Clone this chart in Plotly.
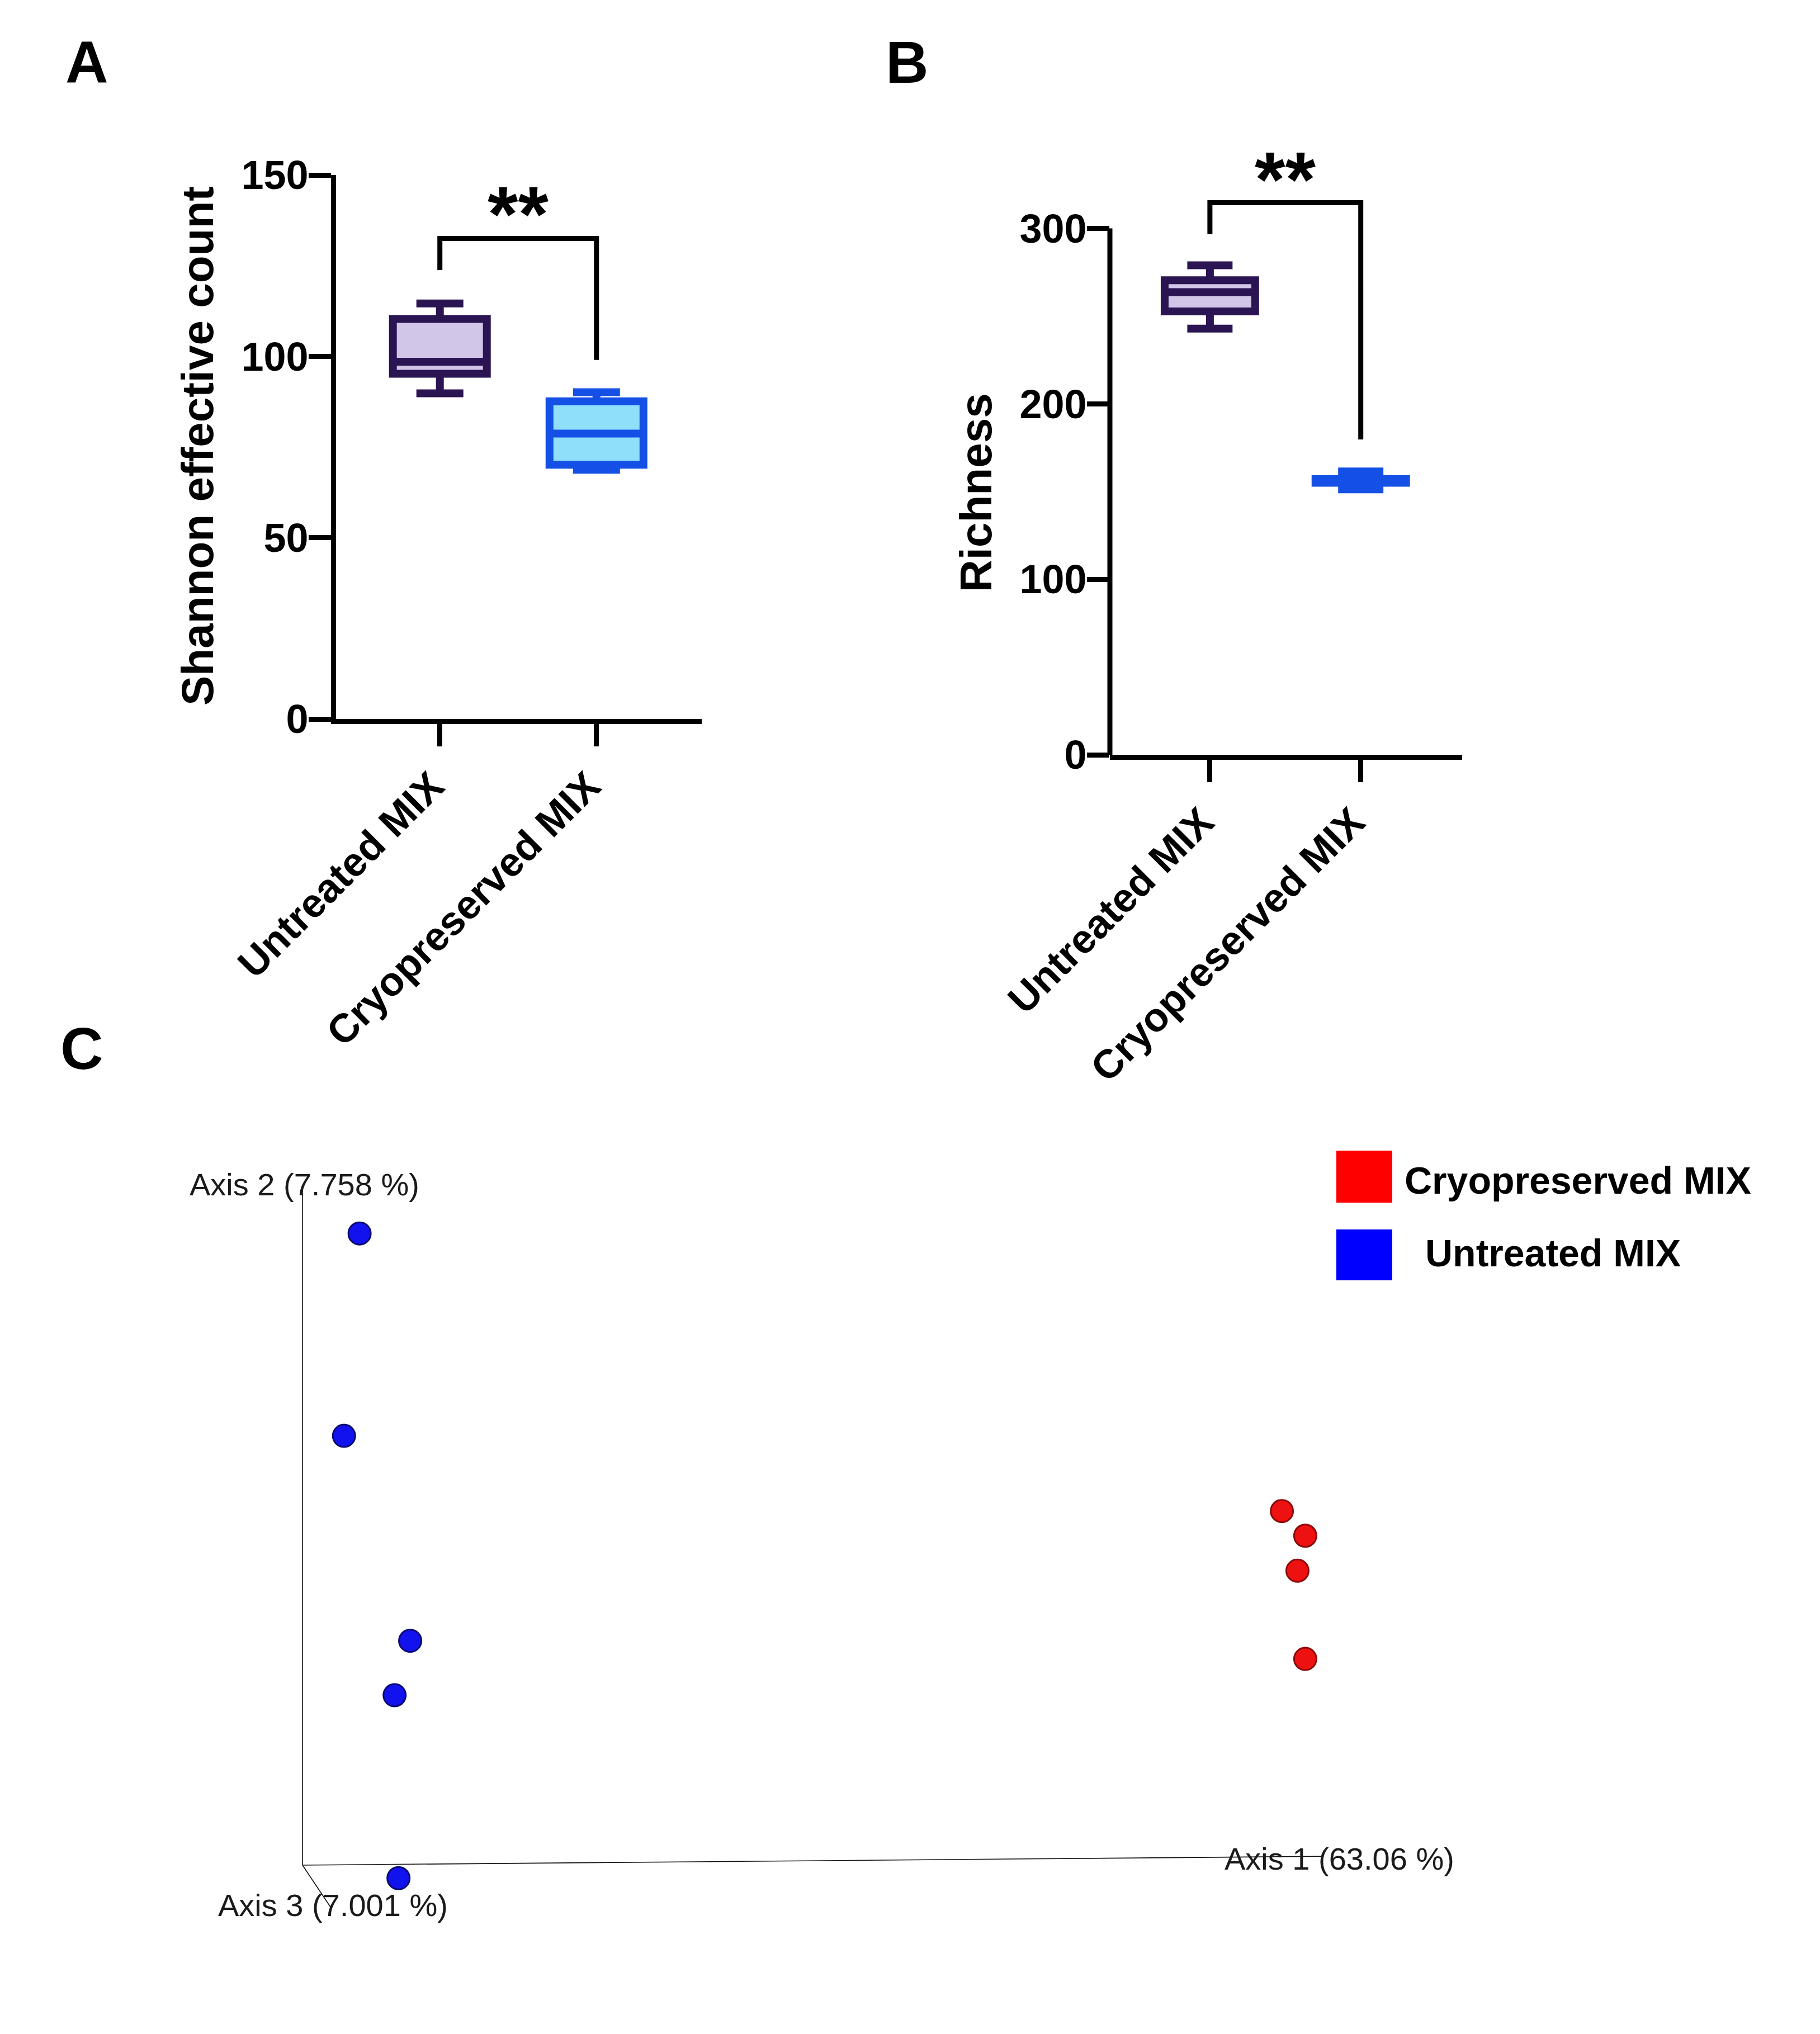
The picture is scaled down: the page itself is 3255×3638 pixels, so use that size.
import plotly.graph_objects as go

W, H = 3255, 3638
OFF = 8  # page body margin of the written html
FONT = "Liberation Sans, Arial, Helvetica, sans-serif"

# ---------------- data ----------------
categories = ["Untreated MIX", "Cryopreserved MIX"]
box_line_colors = ["#2B1452", "#1450E6"]
box_fill_colors = ["#D1C5E8", "#8FDEFA"]

# Panel A: Shannon effective count (box summaries)
shannon_lower = [89.8, 68.7]
shannon_q1 = [95.2, 70.1]
shannon_median = [98.5, 78.7]
shannon_q3 = [110.3, 87.6]
shannon_upper = [114.6, 90.1]
shannon_ticks = [0, 50, 100, 150]
shannon_bracket = [123.8, 132.5, 132.5, 99.0]
shannon_star_y = 139.3

# Panel B: Richness (box summaries)
rich_lower = [242.9, 151.3]
rich_q1 = [252.7, 155.0]
rich_median = [263.7, 156.0]
rich_q3 = [270.5, 157.2]
rich_upper = [279.0, 161.5]
rich_ticks = [0, 100, 200, 300]
rich_bracket = [296.8, 314.7, 314.7, 179.7]
rich_star_y = 328.0

# Panel C: PCoA (projected scores)
untreated_pc1 = [0.044, 0.032, 0.083, 0.071, 0.074]
untreated_pc2 = [0.487, 0.331, 0.173, 0.131, -0.010]
cryo_pc1 = [0.755, 0.773, 0.767, 0.773]
cryo_pc2 = [0.273, 0.254, 0.227, 0.159]
axis_labels = ["Axis 1 (63.06 %)", "Axis 2 (7.758 %)", "Axis 3 (7.001 %)"]
legend_labels = ["Cryopreserved MIX", "Untreated MIX"]
legend_colors = ["#FF0000", "#0000FF"]

fig = go.Figure()

xpos = list(range(len(categories)))

# ---- Panel A boxes ----
for i in xpos:
    fig.add_trace(go.Box(
        x=[i], q1=[shannon_q1[i]], median=[shannon_median[i]], q3=[shannon_q3[i]],
        lowerfence=[shannon_lower[i]], upperfence=[shannon_upper[i]],
        fillcolor=box_fill_colors[i], line=dict(color=box_line_colors[i], width=14),
        width=0.6, whiskerwidth=0.5, boxpoints=False, showlegend=False,
        xaxis="x", yaxis="y", hoverinfo="skip"))
fig.add_trace(go.Scatter(x=[0, 0, 1, 1], y=shannon_bracket, mode="lines",
                         line=dict(color="black", width=9), showlegend=False,
                         xaxis="x", yaxis="y", hoverinfo="skip"))

# ---- Panel B boxes ----
for i in xpos:
    fig.add_trace(go.Box(
        x=[i], q1=[rich_q1[i]], median=[rich_median[i]], q3=[rich_q3[i]],
        lowerfence=[rich_lower[i]], upperfence=[rich_upper[i]],
        fillcolor=box_fill_colors[i], line=dict(color=box_line_colors[i], width=14),
        width=0.6, whiskerwidth=0.5, boxpoints=False, showlegend=False,
        xaxis="x2", yaxis="y2", hoverinfo="skip"))
fig.add_trace(go.Scatter(x=[0, 0, 1, 1], y=rich_bracket, mode="lines",
                         line=dict(color="black", width=9), showlegend=False,
                         xaxis="x2", yaxis="y2", hoverinfo="skip"))

# ---- Panel C: PCoA axes frame ----
ax_line = dict(color="#111111", width=1.6)
fig.add_trace(go.Scatter(x=[0, 0], y=[0, 0.523], mode="lines", line=ax_line,
                         showlegend=False, xaxis="x3", yaxis="y3", hoverinfo="skip"))
fig.add_trace(go.Scatter(x=[0, 0.787], y=[0, 0.0068], mode="lines", line=ax_line,
                         showlegend=False, xaxis="x3", yaxis="y3", hoverinfo="skip"))
fig.add_trace(go.Scatter(x=[0, 0.0216], y=[0, -0.0323], mode="lines", line=ax_line,
                         showlegend=False, xaxis="x3", yaxis="y3", hoverinfo="skip"))

fig.add_trace(go.Scatter(x=untreated_pc1, y=untreated_pc2, mode="markers",
                         marker=dict(size=40, color="#1212EE", line=dict(color="#0A0A70", width=3)),
                         showlegend=False, xaxis="x3", yaxis="y3", hoverinfo="skip"))
fig.add_trace(go.Scatter(x=cryo_pc1, y=cryo_pc2, mode="markers",
                         marker=dict(size=40, color="#EE1111", line=dict(color="#8B0A0A", width=3)),
                         showlegend=False, xaxis="x3", yaxis="y3", hoverinfo="skip"))

tickfont = dict(family=FONT, size=72, color="black", weight="bold")
xa_common = dict(range=[-0.663, 1.672], tickvals=xpos, ticktext=categories,
                 tickangle=-45, ticks="outside", ticklen=40, tickwidth=9, tickcolor="black",
                 showline=True, linewidth=9, linecolor="black", showgrid=False,
                 zeroline=False, tickfont=tickfont, fixedrange=True, automargin=False,
                 ticklabelshift=-14)
ya_common = dict(ticks="outside", ticklen=40, tickwidth=9, tickcolor="black",
                 showgrid=False, zeroline=False, tickfont=tickfont, fixedrange=True,
                 automargin=False, ticklabelstandoff=-14)


def py2paper(py):
    return 1 - (py - OFF) / H


def px2paper(px):
    return (px - OFF) / W


# panel C mapping: 1 data unit = 2320 px, origin at screen (541, 3336)
C_X0, C_Y0, C_S = 541.0, 3336.0, 2320.0
c_left, c_right, c_top, c_bottom = 100, 3200, 1995, 3600

fig.update_layout(
    width=W, height=H,
    margin=dict(l=0, r=0, t=0, b=0, pad=0, autoexpand=False),
    paper_bgcolor="white", plot_bgcolor="rgba(0,0,0,0)",
    font=dict(family=FONT, color="black"),
    showlegend=False,
    xaxis=dict(domain=[px2paper(601), px2paper(1255)], anchor="y", **xa_common),
    yaxis=dict(domain=[py2paper(1286), py2paper(313)], anchor="x", range=[0, 150],
               tickvals=shannon_ticks, showline=True, linewidth=9, linecolor="black",
               **ya_common),
    xaxis2=dict(domain=[px2paper(1985), px2paper(2615)], anchor="y2", **xa_common),
    yaxis2=dict(domain=[py2paper(1350), py2paper(267.4)], anchor="x2", range=[0, 345],
                tickvals=rich_ticks, showline=False, **ya_common),
    xaxis3=dict(domain=[px2paper(c_left), px2paper(c_right)], anchor="y3",
                range=[(c_left - C_X0) / C_S, (c_right - C_X0) / C_S], visible=False,
                fixedrange=True, automargin=False),
    yaxis3=dict(domain=[py2paper(c_bottom), py2paper(c_top)], anchor="x3",
                range=[(C_Y0 - c_bottom) / C_S, (C_Y0 - c_top) / C_S],
                visible=False, fixedrange=True, automargin=False),
)

# y axis line of panel B stops at 300
fig.add_shape(type="line", xref="x2 domain", yref="y2", x0=0, x1=0, y0=0, y1=rich_ticks[-1],
              line=dict(color="black", width=9))

annotations = []
# panel letters
for letter, (px, py) in zip(["A", "B", "C"], [(155, 111), (1622, 111), (146, 1875)]):
    annotations.append(dict(text=letter, xref="paper", yref="paper", x=px2paper(px), y=py2paper(py),
                            xanchor="center", yanchor="middle", showarrow=False,
                            font=dict(family=FONT, size=106, color="black", weight="bold")))
# y titles
annotations.append(dict(text="Shannon effective count", xref="paper", yref="paper",
                        x=px2paper(353), y=py2paper(798), textangle=-90, xanchor="center",
                        yanchor="middle", showarrow=False,
                        font=dict(family=FONT, size=80, color="black", weight="bold")))
annotations.append(dict(text="Richness", xref="paper", yref="paper",
                        x=px2paper(1745), y=py2paper(881), textangle=-90, xanchor="center",
                        yanchor="middle", showarrow=False,
                        font=dict(family=FONT, size=80, color="black", weight="bold")))
# significance stars
annotations.append(dict(text="**", xref="x", yref="y", x=0.5, y=shannon_star_y, showarrow=False,
                        xanchor="center", yanchor="middle",
                        font=dict(family=FONT, size=140, color="black", weight="bold")))
annotations.append(dict(text="**", xref="x2", yref="y2", x=0.5, y=rich_star_y, showarrow=False,
                        xanchor="center", yanchor="middle",
                        font=dict(family=FONT, size=140, color="black", weight="bold")))
# PCoA axis labels
axfont = dict(family=FONT, size=56, color="#1a1a1a")
for txt, (x, y) in zip(axis_labels, [(0.710, 0.005), (-0.088, 0.525), (-0.066, -0.031)]):
    annotations.append(dict(text=txt, xref="x3", yref="y3", x=x, y=y, showarrow=False,
                            xanchor="left", yanchor="middle", font=axfont))
# custom legend
legfont = dict(family=FONT, size=68, color="black", weight="bold")
for lab, col, (sy0, sy1), (tx, ty) in zip(legend_labels, legend_colors,
                                           [(2058, 2151), (2199, 2290)],
                                           [(2510, 2111), (2547, 2241)]):
    fig.add_shape(type="rect", xref="paper", yref="paper", x0=px2paper(2390), x1=px2paper(2490),
                  y0=py2paper(sy1), y1=py2paper(sy0), fillcolor=col, line=dict(width=0))
    annotations.append(dict(text=lab, xref="paper", yref="paper", x=px2paper(tx), y=py2paper(ty),
                            xanchor="left", yanchor="middle", showarrow=False, font=legfont))

fig.update_layout(annotations=annotations)

fig.write_html("out.html")
